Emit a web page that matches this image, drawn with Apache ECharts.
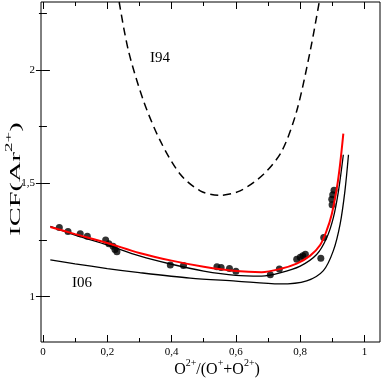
<!DOCTYPE html>
<html>
<head>
<meta charset="utf-8">
<script src="https://cdn.jsdelivr.net/npm/echarts@6/dist/echarts.min.js"></script>
<style>
  html, body { margin: 0; padding: 0; background: #fff; }
  #chart { width: 382px; height: 378px; }
</style>
</head>
<body>
<div id="chart"></div>
<script>
// observed points O2+/(O+ + O2+) vs ICF(Ar2+)
const points = [
  [0.051, 1.305], [0.078, 1.288], [0.116, 1.278], [0.138, 1.267],
  [0.195, 1.250], [0.205, 1.234], [0.218, 1.222], [0.224, 1.208], [0.230, 1.198],
  [0.396, 1.140], [0.437, 1.137], [0.541, 1.132], [0.554, 1.129], [0.580, 1.124], [0.600, 1.112],
  [0.707, 1.097], [0.735, 1.122], [0.789, 1.165], [0.800, 1.174], [0.808, 1.181], [0.816, 1.187],
  [0.864, 1.169], [0.873, 1.261],
  [0.899, 1.405], [0.898, 1.430], [0.901, 1.450], [0.905, 1.470]
];

// red fit
const redFit = [
  [0.023, 1.307], [0.1, 1.276], [0.2, 1.237], [0.3, 1.193], [0.4, 1.159], [0.5, 1.132],
  [0.6, 1.113], [0.68, 1.108], [0.737, 1.122], [0.789, 1.146], [0.831, 1.181], [0.862, 1.228],
  [0.882, 1.291], [0.898, 1.364], [0.914, 1.481], [0.924, 1.585], [0.934, 1.719]
];

// black curve next to the fit
const blackFit = [
  [0.023, 1.310], [0.1, 1.272], [0.2, 1.228], [0.3, 1.180], [0.4, 1.143], [0.5, 1.113],
  [0.6, 1.094], [0.68, 1.091], [0.737, 1.105], [0.8, 1.135], [0.851, 1.186], [0.882, 1.259],
  [0.903, 1.349], [0.919, 1.467], [0.934, 1.626]
];

// I06
const curveI06 = [
  [0.023, 1.162], [0.1, 1.145], [0.2, 1.124], [0.3, 1.106], [0.458, 1.082], [0.6, 1.069],
  [0.737, 1.056], [0.82, 1.070], [0.872, 1.115], [0.903, 1.203], [0.924, 1.320],
  [0.939, 1.467], [0.950, 1.626]
];

// I94 (dashed)
const curveI94 = [
  [0.237, 2.300], [0.266, 2.084], [0.313, 1.863], [0.365, 1.687], [0.427, 1.540],
  [0.489, 1.467], [0.548, 1.447], [0.613, 1.467], [0.686, 1.540], [0.743, 1.643],
  [0.789, 1.819], [0.831, 2.084], [0.859, 2.300]
];

const xMajor = [0, 0.2, 0.4, 0.6, 0.8, 1];
const xMinor = [0.1, 0.3, 0.5, 0.7, 0.9];
const yMajor = [1, 1.5, 2];
const yMinor = [1.25, 1.75, 2.25];

const serif = 'Liberation Serif';
const xMin = -0.006, xMax = 1.048;
const yMin = 0.8, yMax = 2.3;

function comma(v) {
  return String(v).replace('.', ',');
}

function xAx(pos, ticks, len, labels) {
  return {
    type: 'value', position: pos, min: xMin, max: xMax,
    axisLine: { show: false },
    splitLine: { show: false },
    axisTick: { show: true, inside: true, length: len, customValues: ticks, lineStyle: { color: '#000', width: 1 } },
    axisLabel: { show: labels, customValues: ticks, formatter: comma, margin: 5,
      fontFamily: serif, fontSize: 11, color: '#000' }
  };
}

function yAx(pos, ticks, len, labels) {
  return {
    type: 'value', position: pos, min: yMin, max: yMax,
    axisLine: { show: false },
    splitLine: { show: false },
    axisTick: { show: true, inside: true, length: len, customValues: ticks, lineStyle: { color: '#000', width: 1 } },
    axisLabel: { show: labels, customValues: ticks, formatter: comma, margin: 6,
      fontFamily: serif, fontSize: 11, color: '#000' }
  };
}

let myChart = echarts.init(document.getElementById('chart'));

let option = {
  animation: false,
  grid: { left: 41, right: 2, top: 2, bottom: 36, show: true, borderColor: '#000', borderWidth: 1, backgroundColor: '#fff' },
  xAxis: [
    xAx('bottom', xMajor, 7, true),
    xAx('bottom', xMinor, 4, false),
    xAx('top', xMajor, 7, false),
    xAx('top', xMinor, 4, false)
  ],
  yAxis: [
    yAx('left', yMajor, 7, true),
    yAx('left', yMinor, 4, false),
    yAx('right', yMajor, 7, false),
    yAx('right', yMinor, 4, false)
  ],
  series: [
    {
      name: 'I94', type: 'line', data: curveI94, smooth: 0.3, symbol: 'none',
      lineStyle: { color: '#000', width: 1.5, type: [8, 5] }
    },
    {
      name: 'I06', type: 'line', data: curveI06, smooth: 0.3, symbol: 'none',
      lineStyle: { color: '#000', width: 1.3 }
    },
    {
      name: 'black', type: 'line', data: blackFit, smooth: 0.3, symbol: 'none',
      lineStyle: { color: '#000', width: 1.3 }
    },
    {
      name: 'obs', type: 'scatter', data: points, symbol: 'circle', symbolSize: 7,
      itemStyle: { color: '#000' }
    },
    {
      name: 'fit', type: 'line', data: redFit, smooth: 0.3, symbol: 'none',
      lineStyle: { color: '#ff0000', width: 2 }
    }
  ],
  graphic: [
    {
      type: 'text', left: 150, top: 51,
      style: { text: 'I94', fontFamily: serif, fontSize: 15, fill: '#000' }
    },
    {
      type: 'text', left: 72, top: 276,
      style: { text: 'I06', fontFamily: serif, fontSize: 15, fill: '#000' }
    },
    {
      type: 'text', x: 217, y: 368,
      style: {
        text: '{b|O}{s|2+}{b|/(O}{s|+}{b|+O}{s|2+}{b|)}',
        align: 'center', verticalAlign: 'middle',
        rich: {
          b: { fontFamily: serif, fontSize: 16, verticalAlign: 'bottom', lineHeight: 20, fill: '#000' },
          s: { fontFamily: serif, fontSize: 10, verticalAlign: 'top', lineHeight: 20, fill: '#000' }
        }
      }
    },
    {
      type: 'text', x: 14, y: 179, rotation: Math.PI / 2, scaleX: 1.9,
      style: {
        text: '{b|ICF(Ar}{s|2+}{b|)}',
        align: 'center', verticalAlign: 'middle',
        rich: {
          b: { fontFamily: serif, fontSize: 15, verticalAlign: 'bottom', lineHeight: 20, fill: '#000' },
          s: { fontFamily: serif, fontSize: 10, verticalAlign: 'top', lineHeight: 20, fill: '#000' }
        }
      }
    }
  ]
};

myChart.setOption(option);
</script>
</body>
</html>
